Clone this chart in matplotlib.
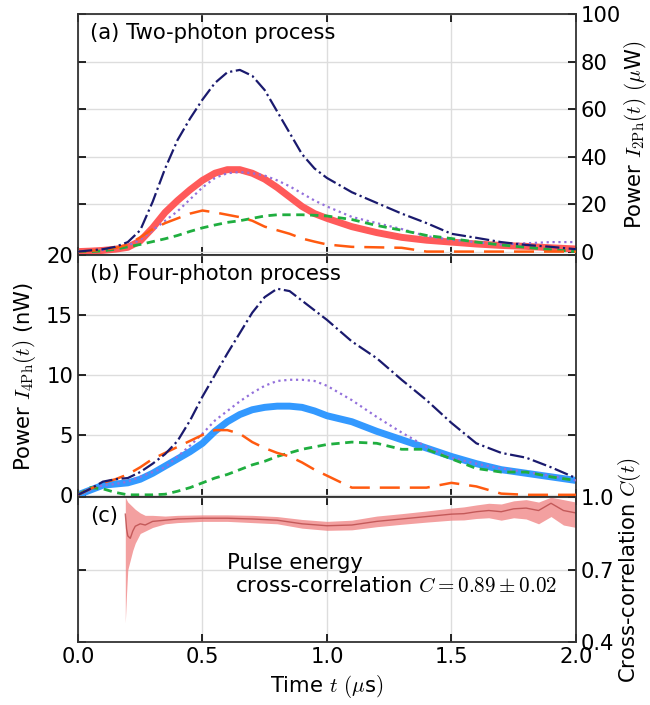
import matplotlib
matplotlib.use("Agg")
import matplotlib.pyplot as plt

plt.rcParams['font.family'] = ['DejaVu Sans']
plt.rcParams['mathtext.fontset'] = 'cm'
plt.rcParams['font.size'] = 15.2

# time axis (us) for panels (a) and (b)
t = [0, .05, .1, .15, .2, .25, .3, .35, .4, .45, .5, .55, .6, .65, .7, .75, .8, .85, .9, .95,
     1.0, 1.1, 1.2, 1.3, 1.4, 1.5, 1.6, 1.7, 1.8, 1.9, 2.0]

# (a) two-photon power, uW
a_total = [0, 0.5, 1, 2, 4, 9, 21, 35, 47, 56, 64, 71, 75.5, 76.5, 74, 68, 59, 50, 41, 35,
           31, 25, 20.5, 16, 12, 7.5, 5.8, 4, 2.8, 2, 1]
a_main = [0, 0.2, 0.5, 1, 1.8, 4.5, 10, 16.5, 21.5, 26, 30, 33, 34.5, 34.5, 33, 30.5, 27, 23, 19, 16,
          14, 10.5, 8, 6, 4.8, 4, 3.2, 2.6, 2.2, 1.6, 1.1]
a_dot = [0, 0.3, 0.7, 1.2, 2.5, 5, 9, 13, 17, 22, 27, 31, 33, 33.5, 33, 32, 30, 27.5, 24.5, 21.5,
         19, 14.6, 12, 9.5, 6.5, 5, 4, 3, 3.5, 4, 4]
a_green = [0, 0, 0.3, 1, 2, 3, 4.2, 5.4, 6.8, 8.5, 10, 11.2, 12.3, 13, 14, 15, 15.5, 15.5, 15.5, 15.3,
           15, 13.5, 11, 9, 6.8, 5.5, 4, 2.8, 1.8, 0.8, 0]
a_orange = [0, 0.3, 0.8, 1.5, 3, 6, 9.5, 12, 14, 16, 17.3, 16.5, 15.5, 14.5, 13, 10.5, 9, 7.5, 5.5, 4.2,
            3, 2, 1.8, 1.6, 0, 0, 0, 0, 0, 0, 0]

# (b) four-photon power, nW
b_total = [0, 0.5, 1.1, 1.3, 1.4, 1.9, 2.6, 3.4, 4.5, 6.2, 8.2, 10, 11.8, 13.5, 15.2, 16.5, 17.2, 17, 16.2, 15.4,
           14.6, 12.8, 11.4, 9.6, 7.9, 6.0, 4.3, 3.5, 3.1, 2.3, 1.4]
b_main = [0, 0.4, 0.8, 0.9, 1.0, 1.3, 1.8, 2.4, 3.0, 3.6, 4.3, 5.3, 6.1, 6.7, 7.1, 7.3, 7.4, 7.4, 7.3, 7.0,
          6.6, 6.1, 5.3, 4.6, 3.9, 3.2, 2.6, 2.1, 1.8, 1.5, 1.2]
b_dot = [0, 0.4, 0.8, 0.9, 1.1, 1.5, 1.9, 2.3, 3.2, 4.1, 5.1, 6.2, 7, 7.8, 8.5, 9.1, 9.5, 9.6, 9.6, 9.5,
         9.1, 7.9, 6.5, 5.2, 4.0, 3.1, 2.6, 2.2, 1.9, 1.6, 1.2]
b_green = [0, 0.6, 0.5, 0.2, 0, 0, 0, 0.05, 0.3, 0.6, 1.0, 1.4, 1.7, 2.1, 2.5, 2.8, 3.2, 3.5, 3.8, 4.0,
           4.2, 4.4, 4.3, 3.8, 3.8, 3.0, 2.2, 1.9, 1.9, 1.5, 1.2]
b_orange = [0, 0.5, 1.0, 1.3, 1.7, 2.3, 3.0, 3.5, 4.0, 4.5, 5.0, 5.4, 5.4, 5.1, 4.4, 3.9, 3.5, 3.2, 2.7, 2.1,
            1.6, 0.6, 0.6, 0.6, 0.6, 1.0, 0.7, 0.1, 0, 0, 0]

# (c) cross-correlation
t_c = [0.19, 0.195, 0.2, 0.21, 0.22, 0.23, 0.25, 0.27, 0.3, 0.35, 0.4, 0.5, 0.6, 0.7, 0.8, 0.9,
       1.0, 1.1, 1.2, 1.3, 1.4, 1.5, 1.55, 1.6, 1.65, 1.7, 1.75, 1.8, 1.85, 1.9, 1.95, 2.0]
corr = [0.93, 0.87, 0.84, 0.83, 0.86, 0.88, 0.89, 0.885, 0.9, 0.905, 0.91, 0.913, 0.913, 0.91, 0.905, 0.89,
        0.882, 0.885, 0.90, 0.91, 0.92, 0.93, 0.932, 0.94, 0.945, 0.94, 0.952, 0.955, 0.945, 0.975, 0.945, 0.935]
corr_lo = [0.48, 0.6, 0.7, 0.74, 0.78, 0.81, 0.85, 0.86, 0.875, 0.89, 0.895, 0.9, 0.9, 0.895, 0.89, 0.872,
           0.863, 0.865, 0.878, 0.888, 0.897, 0.905, 0.906, 0.912, 0.915, 0.905, 0.915, 0.91, 0.89, 0.92, 0.885, 0.875]
corr_hi = [1.0, 0.99, 0.98, 0.97, 0.96, 0.95, 0.935, 0.925, 0.925, 0.922, 0.925, 0.927, 0.927, 0.925, 0.92, 0.908,
           0.9, 0.905, 0.922, 0.932, 0.943, 0.955, 0.96, 0.968, 0.975, 0.972, 0.985, 0.99, 0.98, 1.0, 0.99, 0.98]

navy = '#1a1a6e'
purple = '#9370db'
green = '#1fae3f'
orange = '#ff5a10'

fig = plt.figure(figsize=(6.5, 7.05), dpi=100)
gs = fig.add_gridspec(3, 1, height_ratios=[241, 242, 145], hspace=0)
plt.subplots_adjust(left=0.12, right=0.886, top=0.98, bottom=0.089)
ax_a = fig.add_subplot(gs[0])
ax_b = fig.add_subplot(gs[1], sharex=ax_a)
ax_c = fig.add_subplot(gs[2], sharex=ax_a)


def draw(ax, main, main_col, total, dot, grn, org):
    ax.plot(t, main, color=main_col, lw=5, solid_capstyle='butt', zorder=2)
    ax.plot(t, dot, color=purple, lw=1.6, ls=':', zorder=3)
    ax.plot(t, grn, color=green, lw=2, ls=(0, (3, 2)), zorder=3)
    ax.plot(t, org, color=orange, lw=1.8, ls=(0, (8, 4)), zorder=3)
    ax.plot(t, total, color=navy, lw=1.6, ls='-.', zorder=4)


draw(ax_a, a_main, '#ff5a5a', a_total, a_dot, a_green, a_orange)
draw(ax_b, b_main, '#3399ff', b_total, b_dot, b_green, b_orange)

ax_c.fill_between(t_c, corr_lo, corr_hi, color='#f08080', alpha=0.75, lw=0)
ax_c.plot(t_c, corr, color='#b84848', lw=1, alpha=0.8)

for ax in (ax_a, ax_b, ax_c):
    ax.set_xlim(0, 2.0)
    ax.grid(True, color='#dddddd', lw=1)
    ax.set_axisbelow(True)
    ax.tick_params(direction='in', top=True, bottom=True, left=True, right=True, length=6, width=1.2)
    for s in ax.spines.values():
        s.set_color('#333333')
        s.set_linewidth(1.3)

ax_a.set_ylim(-1.5, 100)
ax_a.set_yticks([0, 20, 40, 60, 80, 100])
ax_a.tick_params(labelleft=False, labelright=True, labelbottom=False)
ax_a.yaxis.set_label_position('right')
ax_a.set_ylabel(r'Power $I_{\rm 2Ph}(t)$ $(\mu$W$)$', labelpad=1)
ax_a.text(0.024, 0.965, '(a) Two-photon process', transform=ax_a.transAxes, va='top', ha='left')

ax_b.set_ylim(-0.2, 20)
ax_b.set_yticks([0, 5, 10, 15, 20])
ax_b.tick_params(labelbottom=False)
ax_b.set_ylabel(r'Power $I_{\rm 4Ph}(t)$ (nW)', labelpad=6)
ax_b.text(0.024, 0.965, '(b) Four-photon process', transform=ax_b.transAxes, va='top', ha='left')

ax_c.set_ylim(0.4, 1.0)
ax_c.set_yticks([0.4, 0.7, 1.0])
ax_c.set_xticks([0, 0.5, 1.0, 1.5, 2.0])
ax_c.tick_params(labelleft=False, labelright=True)
ax_c.yaxis.set_label_position('right')
ax_c.set_ylabel(r'Cross-correlation $C(t)$', labelpad=1)
ax_c.set_xlabel(r'Time $t$ $(\mu$s$)$')
ax_c.text(0.024, 0.94, '(c)', transform=ax_c.transAxes, va='top', ha='left')
ax_c.text(0.60, 0.728, 'Pulse energy', ha='left', va='center')
ax_c.text(0.63, 0.634, r'cross-correlation $C = 0.89 \pm 0.02$', ha='left', va='center')

fig.savefig('out.png', dpi=100)
